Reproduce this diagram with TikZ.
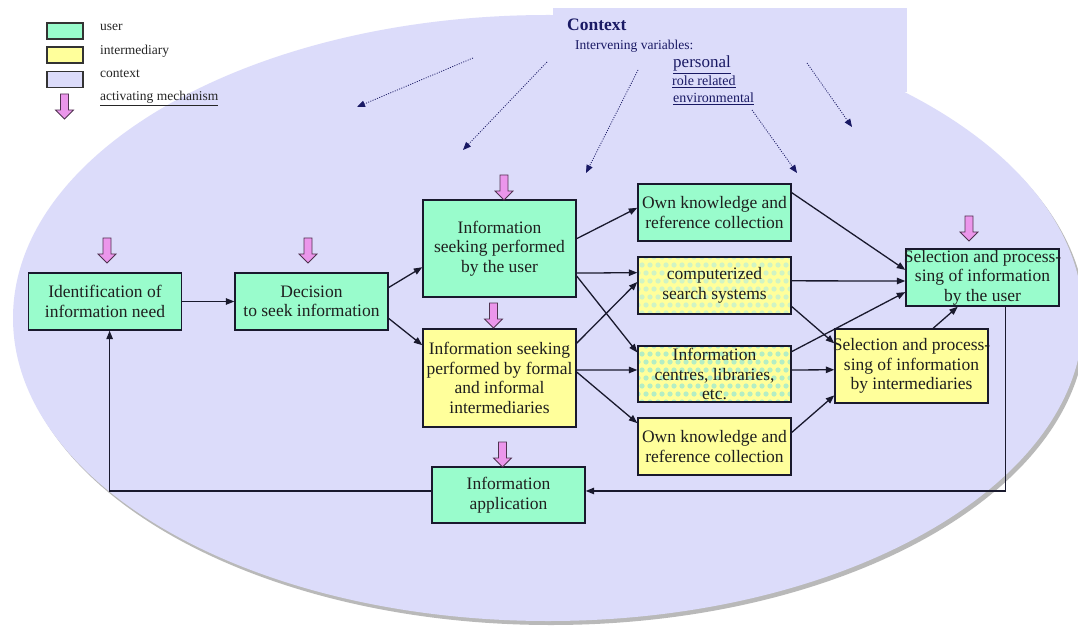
\documentclass[tikz,border=0pt]{standalone}
\usepackage{fontspec}
\setmainfont{Liberation Serif}
\usetikzlibrary{arrows.meta,calc}
\definecolor{lav}{RGB}{220,220,250}
\definecolor{ugreen}{RGB}{153,252,204}
\definecolor{iyellow}{RGB}{255,255,155}
\definecolor{navy}{RGB}{25,25,100}
\definecolor{pinkf}{RGB}{235,150,235}
\definecolor{pinkd}{RGB}{80,50,80}
\definecolor{dotf}{RGB}{208,244,196}
\definecolor{dotg}{RGB}{180,238,196}
\definecolor{lineclr}{RGB}{25,25,45}
\begin{document}
\begin{tikzpicture}[x=1pt,y=-1pt,
  boxbase/.style={draw=lineclr,line width=1.4pt,minimum width=153pt,minimum height=57pt,inner sep=0pt},
  ubox/.style={boxbase,fill=ugreen},
  ibox/.style={boxbase,fill=iyellow},
  dots/.style={path picture={
     \foreach \i in {0,...,20} \foreach \j in {0,...,8} {
       \fill[#1] ($(path picture bounding box.north west)+({\i*8+mod(\j,2)*4},{\j*8})$) circle (2.6pt);}}},
  txt/.style={font=\fontsize{17.5}{19.5}\selectfont,align=center,inner sep=0pt,text=black!88},
  legtxt/.style={font=\fontsize{13.5}{15}\selectfont,anchor=base west,inner sep=0pt,text=black!85},
  ctxt/.style={text=navy,inner sep=0pt,anchor=base west},
  legbox/.style={draw=black!80,line width=1.1pt,minimum width=36pt,minimum height=16pt,inner sep=0pt},
  conn/.style={draw=lineclr,line width=1.3pt,-{Triangle[length=8.5pt,width=6.5pt]}},
  dotarr/.style={draw=navy,line width=0.8pt,dash pattern=on 1pt off 1.4pt,-{Triangle[length=8pt,width=6.5pt]}},
  actarrow/.pic={\filldraw[fill=pinkf,draw=pinkd,line width=0.8pt,line join=miter]
     (-4,0) -- (4,0) -- (4,16) -- (9,16) -- (0,25) -- (-9,16) -- (-4,16) -- cycle;}
]
\useasboundingbox (0,0) rectangle (1078,628);
\fill[white] (0,0) rectangle (1078,628);
\begin{scope}
  \clip (0,0) rectangle (1078,628);
  \fill[gray!55] (551,322) ellipse [x radius=535, y radius=303];
  \fill[lav] (548,318) ellipse [x radius=535, y radius=303];
  \fill[lav] (553,8) rectangle (907,92);
\end{scope}

% legend
\node[legbox,fill=ugreen] (lg1) at (65,31) {};
\node[legbox,fill=iyellow] (lg2) at (65,55) {};
\node[legbox,fill=lav] (lg3) at (65,79.5) {};
\pic at (64.5,94) {actarrow};
\node[legtxt] (lt1) at (100,31) {user};
\node[legtxt] (lt2) at (100,55) {intermediary};
\node[legtxt] (lt3) at (100,78) {context};
\node[legtxt] (lt4) at (100,101) {\underline{activating mechanism}};

% context texts
\node[ctxt,font=\fontsize{17.5}{19}\selectfont\bfseries] (ctx) at (567,31) {Context};
\node[ctxt,font=\fontsize{13.5}{15}\selectfont] (iv) at (575,50) {Intervening variables:};
\node[ctxt,font=\fontsize{17}{19}\selectfont] (pers) at (673,68) {\underline{personal}};
\node[ctxt,font=\fontsize{14}{16}\selectfont] (role) at (672,86) {\underline{role related}};
\node[ctxt,font=\fontsize{14}{16}\selectfont] (env) at (673,103) {\underline{environmental}};

\coordinate (d1s) at (473,58);  \coordinate (d1e) at (357,107);
\coordinate (d2s) at (547,62);  \coordinate (d2e) at (463,150);
\coordinate (d3s) at (638,70);  \coordinate (d3e) at (586,173);
\coordinate (d4s) at (752,110); \coordinate (d4e) at (797,173);
\coordinate (d5s) at (807,63);  \coordinate (d5e) at (852,127);
\foreach \k in {1,...,5} \draw[dotarr] (d\k s) -- (d\k e);

% boxes
\node[ubox] (A) at (105,301.5) {};
\node[ubox] (B) at (311.5,301.5) {};
\node[ubox,minimum height=97pt] (C) at (499.5,248.5) {};
\node[ibox,minimum height=98pt] (D) at (499.5,378) {};
\node[ubox] (E) at (714.5,212.5) {};
\node[ibox,dots=dotf] (F) at (714.5,285.5) {};
\node[ibox,dots=dotg,minimum height=56pt] (G) at (714.5,374) {};
\node[ibox] (H) at (714.5,446.5) {};
\node[ubox,minimum height=56pt] (I) at (508.5,495) {};
\node[ubox] (J) at (982.5,277.5) {};
\node[ibox,minimum height=74pt] (K) at (911.5,366) {};

\node[txt] (At) at (A) {Identification of\\information need};
\node[txt] (Bt) at (B) {Decision\\to seek information};
\node[txt] (Ct) at (C) {Information\\seeking performed\\by the user};
\node[txt] (Dt) at (D) {Information seeking\\performed by formal\\and informal\\intermediaries};
\node[txt] (Et) at (E) {Own knowledge and\\reference collection};
\node[txt] (Ft) at (F) {computerized\\search systems};
\node[txt] (Gt) at (G) {Information\\centres, libraries,\\etc.};
\node[txt] (Ht) at (H) {Own knowledge and\\reference collection};
\node[txt] (It) at (I) {Information\\application};
\node[txt] (Jt) at (J) {Selection and process-\\sing of information\\by the user};
\node[txt] (Kt) at (K) {Selection and process-\\sing of information\\by intermediaries};

% activating mechanisms
\pic at (107,238) {actarrow};
\pic at (308,238) {actarrow};
\pic at (504,175) {actarrow};
\pic at (493.5,303) {actarrow};
\pic at (502.5,442) {actarrow};
\pic at (969,216) {actarrow};

% connectors
\draw[conn] (A.east) -- (B.west);
\draw[conn] ($(B.north east)!0.26!(B.south east)$) -- ($(C.north west)!0.69!(C.south west)$);
\draw[conn] ($(B.north east)!0.79!(B.south east)$) -- ($(D.north west)!0.17!(D.south west)$);
\draw[conn] ($(C.north east)!0.40!(C.south east)$) -- ($(E.north west)!0.42!(E.south west)$);
\draw[conn] ($(C.north east)!0.75!(C.south east)$) -- ($(F.north west)!0.28!(F.south west)$);
\draw[conn] ($(C.north east)!0.78!(C.south east)$) -- ($(G.north west)!0.125!(G.south west)$);
\draw[conn] ($(D.north east)!0.15!(D.south east)$) -- ($(F.north west)!0.44!(F.south west)$);
\draw[conn] ($(D.north east)!0.42!(D.south east)$) -- ($(G.north west)!0.43!(G.south west)$);
\draw[conn] ($(D.north east)!0.44!(D.south east)$) -- ($(H.north west)!0.10!(H.south west)$);
\draw[conn] ($(E.north east)!0.16!(E.south east)$) -- ($(J.north west)!0.37!(J.south west)$);
\draw[conn] ($(F.north east)!0.42!(F.south east)$) -- ($(J.north west)!0.56!(J.south west)$);
\draw[conn] ($(G.north east)!0.11!(G.south east)$) -- ($(J.north west)!0.75!(J.south west)$);
\draw[conn] ($(F.north east)!0.86!(F.south east)$) -- ($(K.north west)!0.20!(K.south west)$);
\draw[conn] ($(G.north east)!0.43!(G.south east)$) -- ($(K.north west)!0.55!(K.south west)$);
\draw[conn] ($(H.north east)!0.26!(H.south east)$) -- ($(K.north west)!0.89!(K.south west)$);
\draw[conn] ($(K.north west)!0.64!(K.north east)$) -- ($(J.south west)!0.34!(J.south east)$);
\draw[conn] ($(J.south west)!0.65!(J.south east)$) |- ($(I.north east)!0.43!(I.south east)$);
\draw[conn] ($(I.north west)!0.43!(I.south west)$) -| ($(A.south west)!0.53!(A.south east)$);
\end{tikzpicture}
\end{document}
